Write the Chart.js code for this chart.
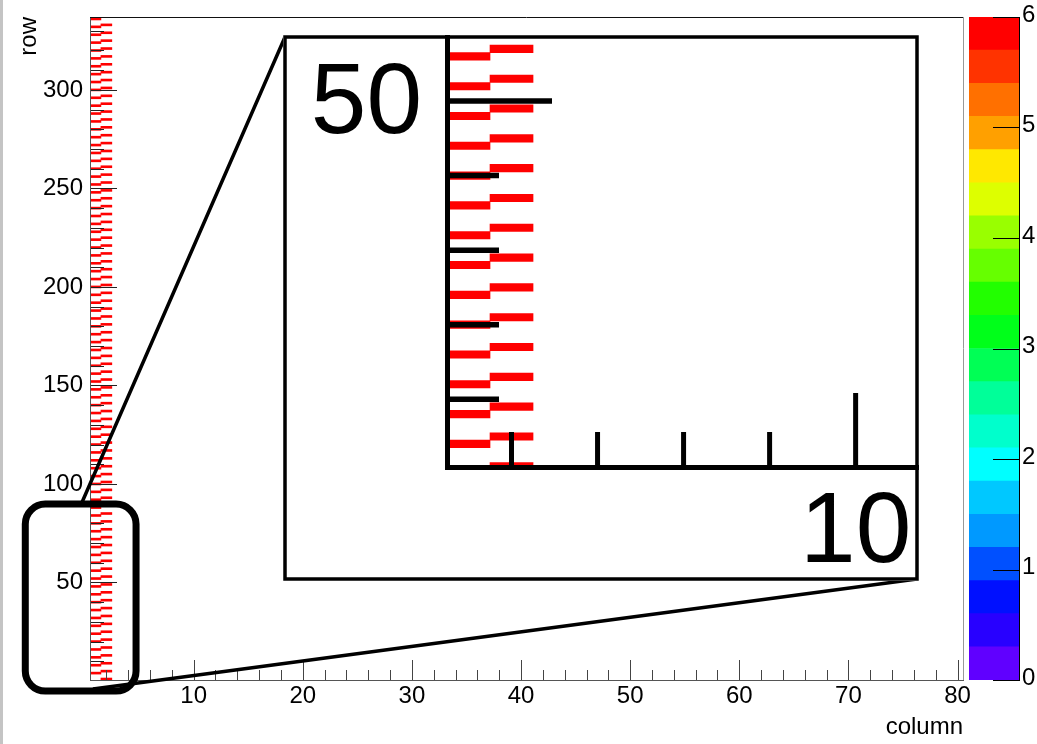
<!DOCTYPE html>
<html>
<head>
<meta charset="utf-8">
<title>row vs column</title>
<script src="https://cdn.jsdelivr.net/npm/chart.js@4.4.1/dist/chart.umd.min.js"></script>
<style>
  html, body { margin: 0; padding: 0; background: #fff; }
  #page { position: relative; width: 1037px; height: 744px; overflow: hidden; background: #fff; }
  #edge { position: absolute; left: 0; top: 0; width: 3px; height: 744px; background: #c4c4c4; }
  canvas { position: absolute; }
</style>
</head>
<body>
<div id="page">
  <canvas id="main" width="1037" height="744" style="left:0;top:0"></canvas>
  <canvas id="palette" width="74" height="744" style="left:963px;top:0"></canvas>
  <canvas id="inset" width="637" height="546" style="left:283px;top:35px"></canvas>
  <div id="edge"></div>
</div>
<script>
Chart.defaults.font.family = '"Liberation Sans", Arial, Helvetica, sans-serif';
Chart.defaults.font.size = 24;
Chart.defaults.color = '#000';
Chart.defaults.animation = false;

// filled cells of the 2D histogram (column -> rows), all with the same content
const columns = [1, 2];
const rowsColumn1 = [4, 8, 12, 16, 20, 24, 28, 32, 36, 40, 44, 48, 52, 56, 60, 64, 68, 72, 76, 80,
  84, 88, 92, 96, 100, 104, 108, 112, 116, 120, 124, 128, 132, 136, 140, 144, 148, 152, 156, 160,
  164, 168, 172, 176, 180, 184, 188, 192, 196, 200, 204, 208, 212, 216, 220, 224, 228, 232, 236, 240,
  244, 248, 252, 256, 260, 264, 268, 272, 276, 280, 284, 288, 292, 296, 300, 304, 308, 312, 316, 320,
  324, 328, 332, 336];
const rowsColumn2 = [1, 5, 9, 13, 17, 21, 25, 29, 33, 37, 41, 45, 49, 53, 57, 61, 65, 69, 73, 77,
  81, 85, 89, 93, 97, 101, 105, 109, 113, 117, 121, 125, 129, 133, 137, 141, 145, 149, 153, 157,
  161, 165, 169, 173, 177, 181, 185, 189, 193, 197, 201, 205, 209, 213, 217, 221, 225, 229, 233, 237,
  241, 245, 249, 253, 257, 261, 265, 269, 273, 277, 281, 285, 289, 293, 297, 301, 305, 309, 313, 317,
  321, 325, 329, 333];
const cellContent = 6;

const xTickLabels = [10, 20, 30, 40, 50, 60, 70, 80];
const yTickLabels = [50, 100, 150, 200, 250, 300];
const zTickLabels = [0, 1, 2, 3, 4, 5, 6];
const zLevels = [0, 0.3, 0.6, 0.9, 1.2, 1.5, 1.8, 2.1, 2.4, 2.7, 3, 3.3, 3.6, 3.9, 4.2, 4.5, 4.8, 5.1, 5.4, 5.7, 6];
const palette = ['#6000ff', '#2800ff', '#0010ff', '#0050ff', '#0099ff', '#00c8ff', '#00ffff', '#00ffcc',
  '#00ff99', '#00ff55', '#00ff1a', '#22ff00', '#66ff00', '#99ff00', '#ddff00', '#ffe800',
  '#ffa000', '#ff7000', '#ff3300', '#ff0000'];

function cellColor(v) {
  let i = zLevels.findIndex(l => l > v) - 1;
  if (i < 0) i = palette.length - 1;
  return palette[Math.min(i, palette.length - 1)];
}

function cellDatasets() {
  return columns.map((c, i) => ({
    label: 'column ' + c,
    data: [rowsColumn1, rowsColumn2][i].map(r => ({ x: [c - 0.5, c + 0.5], y: r })),
    backgroundColor: cellColor(cellContent),
    borderWidth: 0,
    grouped: false,
    barPercentage: 1,
    categoryPercentage: 1
  }));
}

function tickRange(first, last, step) {
  const out = [];
  for (let v = first; v <= last + 1e-9; v += step) out.push({ value: v });
  return out;
}

function noPadding(s) {
  s.paddingLeft = s.paddingRight = s.paddingTop = s.paddingBottom = 0;
}

// ROOT style ticks, drawn into the frame
const rootTicks = {
  id: 'rootTicks',
  afterDatasetsDraw(chart, args, opts) {
    const ctx = chart.ctx;
    ctx.save();
    for (const id of Object.keys(opts.axes || {})) {
      const scale = chart.scales[id];
      const cfg = opts.axes[id];
      ctx.strokeStyle = cfg.color || '#000';
      ctx.lineWidth = cfg.width || 1;
      for (const t of scale.ticks) {
        const len = cfg.major.includes(t.value) ? cfg.majorLen : cfg.minorLen;
        if (!len) continue;
        let p = scale.getPixelForValue(t.value);
        if (ctx.lineWidth === 1) p = Math.round(p) + 0.5;
        ctx.beginPath();
        if (scale.position === 'bottom') {
          ctx.moveTo(p, scale.top); ctx.lineTo(p, scale.top - len);
        } else if (scale.position === 'left') {
          ctx.moveTo(scale.right, p); ctx.lineTo(scale.right + len, p);
        } else {
          ctx.moveTo(scale.left, p); ctx.lineTo(scale.left - len, p);
        }
        ctx.stroke();
      }
    }
    ctx.restore();
  }
};

// frame top/right, zoom box and the lines to the inset
const zoomMarks = {
  id: 'zoomMarks',
  afterDraw(chart, args, o) {
    const { ctx, chartArea: a, scales: { x, y } } = chart;
    ctx.save();
    ctx.lineWidth = 1;
    ctx.strokeStyle = '#111';
    ctx.beginPath();
    ctx.moveTo(a.left, a.top + 0.5); ctx.lineTo(a.right, a.top + 0.5);
    ctx.stroke();
    ctx.strokeStyle = '#999';
    ctx.beginPath();
    ctx.moveTo(a.right + 0.5, a.top); ctx.lineTo(a.right + 0.5, a.bottom);
    ctx.stroke();

    const x0 = x.getPixelForValue(o.box.x[0]), x1 = x.getPixelForValue(o.box.x[1]);
    const y0 = y.getPixelForValue(o.box.y[1]), y1 = y.getPixelForValue(o.box.y[0]);
    ctx.strokeStyle = '#000';
    ctx.lineWidth = 7;
    ctx.beginPath();
    ctx.roundRect(x0, y0, x1 - x0, y1 - y0, 20);
    ctx.stroke();

    const inset = document.getElementById('inset');
    const il = inset.offsetLeft + 2, it = inset.offsetTop + 2;
    const ir = inset.offsetLeft + inset.width - 3, ib = inset.offsetTop + inset.height - 2;
    ctx.lineWidth = 3.5;
    ctx.beginPath();
    ctx.moveTo(il, it);
    ctx.lineTo(x.getPixelForValue(o.top[0]), y.getPixelForValue(o.top[1]));
    ctx.moveTo(ir, ib);
    ctx.lineTo(x.getPixelForValue(o.bottom[0]), y.getPixelForValue(o.bottom[1]));
    ctx.stroke();
    ctx.restore();
  }
};

const insetFrame = {
  id: 'insetFrame',
  beforeDraw(chart) {
    const ctx = chart.ctx;
    ctx.save();
    ctx.fillStyle = '#fff';
    ctx.fillRect(0, 0, chart.width, chart.height);
    ctx.restore();
  },
  afterDraw(chart) {
    const ctx = chart.ctx;
    ctx.save();
    ctx.strokeStyle = '#000';
    ctx.lineWidth = 3.5;
    ctx.strokeRect(2, 2, chart.width - 5, chart.height - 4);
    ctx.restore();
  }
};

// main histogram
new Chart(document.getElementById('main'), {
  type: 'bar',
  data: { datasets: cellDatasets() },
  options: {
    responsive: false,
    indexAxis: 'y',
    layout: { padding: { left: 0, top: 17, right: 74, bottom: 0 } },
    plugins: {
      legend: { display: false },
      tooltip: { enabled: false },
      rootTicks: {
        axes: {
          x: { major: xTickLabels, majorLen: 20, minorLen: 10, color: '#444', width: 1 },
          y: { major: yTickLabels, majorLen: 27, minorLen: 14, color: '#222', width: 1 }
        }
      },
      zoomMarks: {
        box: { x: [-5.43, 4.72], y: [-5.1, 89.8] },
        top: [-0.3, 89.8],
        bottom: [0.77, -4.1]
      }
    },
    scales: {
      x: {
        type: 'linear', min: 0.5, max: 80.5,
        afterBuildTicks: s => { s.ticks = tickRange(2, 80, 2); },
        afterFit: s => { s.height = 64; noPadding(s); },
        grid: { display: false, drawTicks: false },
        border: { display: true, color: '#555', width: 1, z: 1 },
        ticks: { padding: 2, autoSkip: false, maxRotation: 0, callback: v => xTickLabels.includes(v) ? String(v) : '' },
        title: { display: true, text: 'column', align: 'end', padding: { top: 0, bottom: 2 } }
      },
      y: {
        type: 'linear', min: 0.5, max: 337, offset: false,
        afterBuildTicks: s => { s.ticks = tickRange(10, 330, 10); },
        afterFit: s => { s.width = 90; noPadding(s); },
        grid: { display: false, drawTicks: false, offset: false },
        border: { display: true, color: '#555', width: 1, z: 1 },
        ticks: { padding: 7, autoSkip: false, callback: v => yTickLabels.includes(v) ? String(v) : '' },
        title: { display: true, text: 'row', align: 'end', padding: { top: 15, bottom: 0 } }
      }
    }
  },
  plugins: [rootTicks, zoomMarks]
});

// colour palette axis
new Chart(document.getElementById('palette'), {
  type: 'bar',
  data: {
    labels: ['z'],
    datasets: palette.map((c, i) => ({
      data: [zLevels[i + 1] - zLevels[i]],
      backgroundColor: c,
      borderWidth: 0,
      barPercentage: 1,
      categoryPercentage: 1
    }))
  },
  options: {
    responsive: false,
    layout: { padding: { left: 6, top: 17, right: 0, bottom: 64 } },
    plugins: {
      legend: { display: false },
      tooltip: { enabled: false },
      rootTicks: { axes: { y: { major: zTickLabels, majorLen: 26, minorLen: 0, color: '#000', width: 1 } } }
    },
    scales: {
      x: { display: false, stacked: true },
      y: {
        position: 'right', stacked: true, min: 0, max: 6,
        afterBuildTicks: s => { s.ticks = zTickLabels.map(v => ({ value: v })); },
        afterFit: s => { s.width = 18; noPadding(s); },
        grid: { display: false, drawTicks: false },
        border: { display: true, color: '#000', width: 1, z: 1 },
        ticks: { padding: 3, autoSkip: false, labelOffset: -2 }
      }
    }
  },
  plugins: [rootTicks]
});

// zoomed inset
new Chart(document.getElementById('inset'), {
  type: 'bar',
  data: { datasets: cellDatasets() },
  options: {
    responsive: false,
    indexAxis: 'y',
    layout: { padding: { left: 0, top: 2, right: 2, bottom: 0 } },
    plugins: {
      legend: { display: false },
      tooltip: { enabled: false },
      rootTicks: {
        axes: {
          x: { major: xTickLabels, majorLen: 74, minorLen: 35, color: '#000', width: 5 },
          y: { major: yTickLabels, majorLen: 105, minorLen: 52, color: '#000', width: 5.5 }
        }
      }
    },
    scales: {
      x: {
        type: 'linear', min: 0.5, max: 11.45,
        afterBuildTicks: s => { s.ticks = tickRange(2, 10, 2); },
        afterFit: s => { s.height = 114; noPadding(s); },
        grid: { display: false, drawTicks: false },
        border: { display: true, color: '#000', width: 5, z: 1 },
        ticks: { font: { size: 100 }, padding: 7, autoSkip: false, maxRotation: 0, callback: v => xTickLabels.includes(v) ? String(v) : '' }
      },
      y: {
        type: 'linear', min: 0.9, max: 58.6, offset: false,
        afterBuildTicks: s => { s.ticks = tickRange(10, 50, 10); },
        afterFit: s => { s.width = 164; noPadding(s); },
        grid: { display: false, drawTicks: false, offset: false },
        border: { display: true, color: '#000', width: 5, z: 1 },
        ticks: { font: { size: 100 }, padding: 25, labelOffset: 4, autoSkip: false, callback: v => yTickLabels.includes(v) ? String(v) : '' }
      }
    }
  },
  plugins: [rootTicks, insetFrame]
});
</script>
</body>
</html>
